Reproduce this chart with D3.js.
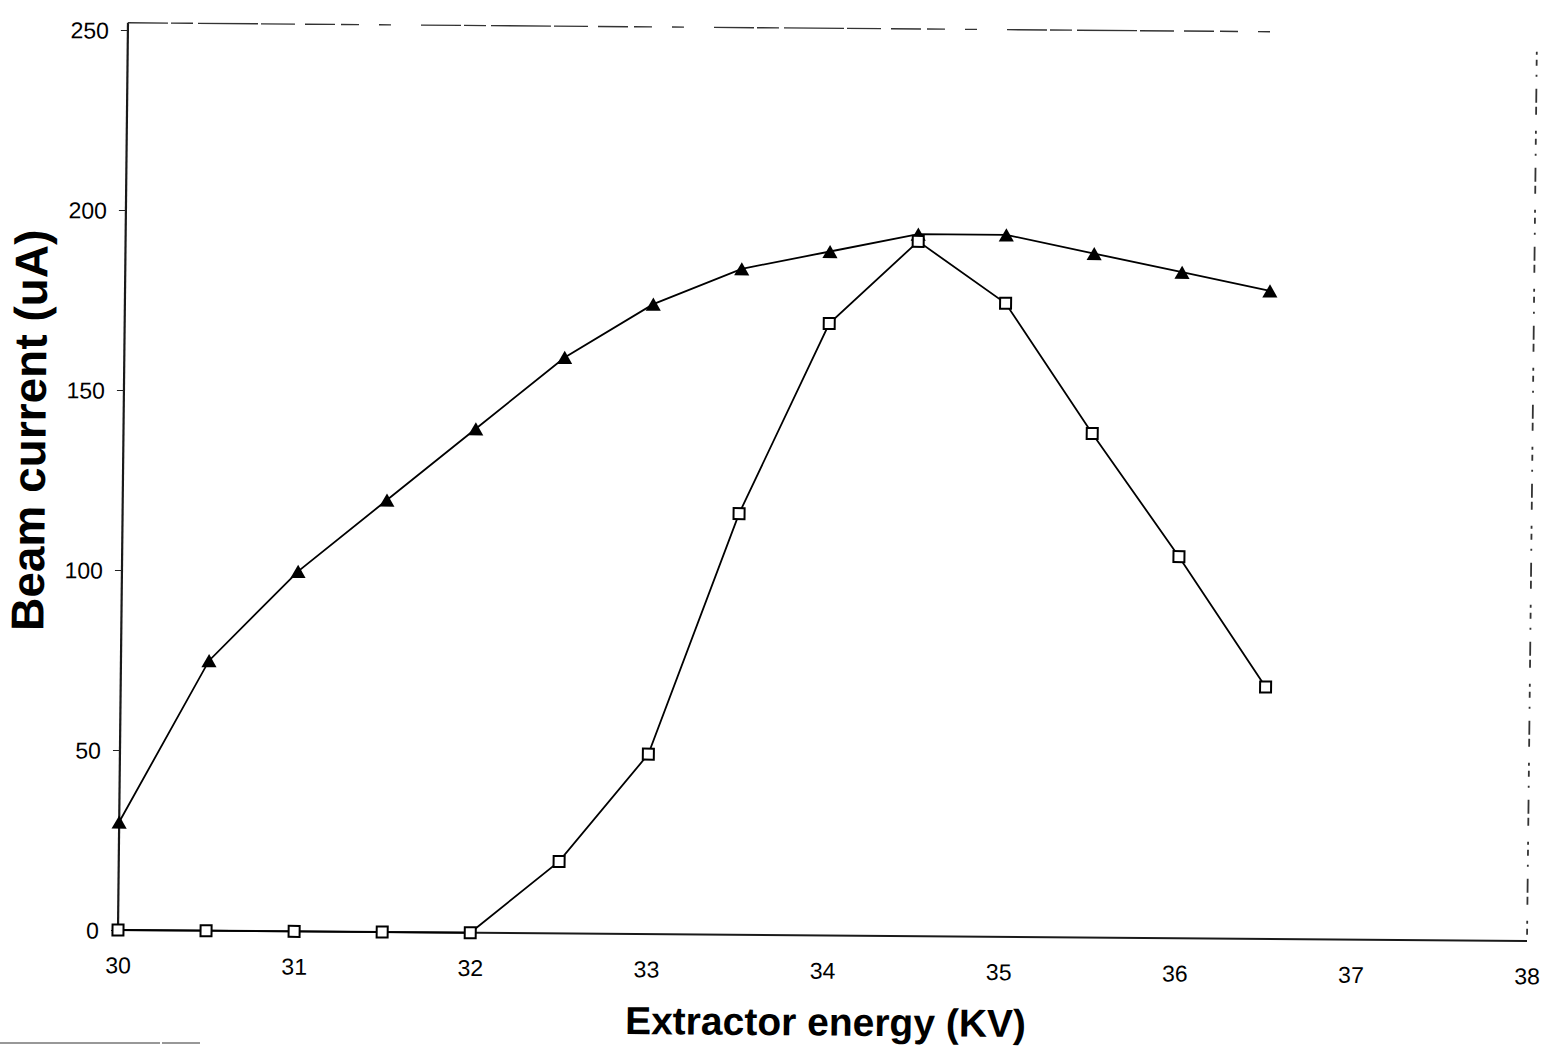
<!DOCTYPE html>
<html>
<head>
<meta charset="utf-8">
<script src="https://cdn.jsdelivr.net/npm/d3@7"></script>
<style>
  html, body { margin: 0; padding: 0; background: #fff; }
  svg { display: block; }
  text { font-family: "Liberation Sans", Arial, sans-serif; fill: #000; }
</style>
</head>
<body>
<svg id="chart" width="1547" height="1046"></svg>
<script>
// Extractor voltage settings (kV)
const energy = [30, 30.5, 31, 31.5, 32, 32.5, 33, 33.5, 34, 34.5, 35, 35.5, 36, 36.5];
// Beam current (uA), filled-triangle series
const currentTriangle = [30, 75, 100, 120, 140, 160, 175, 185, 190, 195, 195, 190, 185, 180];
// Beam current (uA), open-square series
const currentSquare = [0, 0, 0, 0, 0, 20, 50, 117, 170, 193, 176, 140, 106, 70];
// Axis ticks
const xTickValues = [30, 31, 32, 33, 34, 35, 36, 37, 38];
const yTickValues = [0, 50, 100, 150, 200, 250];

(function draw() {
  const svg = d3.select("#chart");

  // Plot frame geometry
  const plotLeft = 118, plotRight = 1527, plotTop = 30, plotBottom = 930;

  const x = d3.scaleLinear().domain([30, 38]).range([plotLeft, plotRight]);
  const y = d3.scaleLinear().domain([0, 250]).range([plotBottom, plotTop]);

  // Slight shear of the whole drawing, as on a skewed printed page
  const sx = 0.011, sy = 0.0078;
  const g = svg.append("g")
    .attr("transform", `matrix(1, ${sy}, ${-sx}, 1, ${sx * plotBottom}, ${-sy * plotLeft})`);

  // Frame: solid left and bottom, broken top, dotted right
  g.append("line")
    .attr("x1", x(30)).attr("x2", x(30)).attr("y1", y(252)).attr("y2", y(0))
    .attr("stroke", "#1a1a1a").attr("stroke-width", 2.2);
  g.append("line")
    .attr("x1", x(30)).attr("x2", x(38)).attr("y1", y(0)).attr("y2", y(0))
    .attr("stroke", "#1a1a1a").attr("stroke-width", 2);
  g.append("line")
    .attr("x1", x(30)).attr("x2", x(36.65)).attr("y1", y(252)).attr("y2", y(252))
    .attr("stroke", "#333").attr("stroke-width", 1.4)
    .attr("stroke-dasharray", "40 3 22 5 60 3 34 10 30 6 18 20 12 30");
  g.append("line")
    .attr("x1", x(38)).attr("x2", x(38)).attr("y1", y(247)).attr("y2", y(0))
    .attr("stroke", "#333").attr("stroke-width", 1.8)
    .attr("stroke-dasharray", "3 5 6 9 2 12 14 4 8 16");

  // Y axis: short outward ticks and labels
  const yAxis = g.append("g").attr("transform", `translate(${x(30)},0)`)
    .call(d3.axisLeft(y).tickValues(yTickValues).tickSize(7).tickPadding(12).tickFormat(d3.format("d")));
  yAxis.select(".domain").remove();
  yAxis.selectAll(".tick line").attr("stroke", "#222").attr("stroke-width", 1);
  yAxis.selectAll("text").style("font-size", "23px").attr("dy", "0.36em");

  // X axis labels
  const xAxis = g.append("g").attr("transform", `translate(0,${y(0)})`)
    .call(d3.axisBottom(x).tickValues(xTickValues).tickSize(0).tickPadding(27).tickFormat(d3.format("d")));
  xAxis.select(".domain").remove();
  xAxis.selectAll("text").style("font-size", "23px").attr("dy", "0.71em");

  // Axis titles
  g.append("text")
    .attr("x", (x(30) + x(38)) / 2 + 4).attr("y", 1030)
    .attr("text-anchor", "middle")
    .style("font-size", "39px").style("font-weight", "bold")
    .text("Extractor energy (KV)");
  g.append("text")
    .attr("transform", "translate(40,431) rotate(-90)")
    .attr("text-anchor", "middle")
    .style("font-size", "46px").style("font-weight", "bold")
    .text("Beam current (uA)");

  const triData = energy.map((e, i) => ({ e, v: currentTriangle[i] }));
  const sqData = energy.map((e, i) => ({ e, v: currentSquare[i] }));

  const line = d3.line().x(d => x(d.e)).y(d => y(d.v));

  g.append("path").datum(triData)
    .attr("d", line).attr("fill", "none").attr("stroke", "#000").attr("stroke-width", 1.8);
  g.append("path").datum(sqData)
    .attr("d", line).attr("fill", "none").attr("stroke", "#000").attr("stroke-width", 1.8);

  // Triangle symbol centred on its bounding box
  const boxTriangle = {
    draw(context, size) {
      const w = Math.sqrt(size * 2 / 0.87);
      const h = w * 0.87;
      context.moveTo(0, -h / 2);
      context.lineTo(w / 2, h / 2);
      context.lineTo(-w / 2, h / 2);
      context.closePath();
    }
  };

  // Filled triangle markers
  g.selectAll(".tri").data(triData).enter().append("path")
    .attr("class", "tri")
    .attr("d", d3.symbol(boxTriangle, 100))
    .attr("transform", d => `translate(${x(d.e)},${y(d.v)})`)
    .attr("fill", "#000");

  // Open square markers
  const sq = 11;
  g.selectAll(".sq").data(sqData).enter().append("rect")
    .attr("class", "sq")
    .attr("x", d => x(d.e) - sq / 2).attr("y", d => y(d.v) - sq / 2)
    .attr("width", sq).attr("height", sq)
    .attr("fill", "#fff").attr("stroke", "#000").attr("stroke-width", 2);

  // Faint rule along the lower page edge
  svg.append("line")
    .attr("x1", 0).attr("x2", 200).attr("y1", 1043).attr("y2", 1043)
    .attr("stroke", "#777").attr("stroke-width", 1.5)
    .attr("stroke-dasharray", "160 2 38 0");
})();
</script>
</body>
</html>
